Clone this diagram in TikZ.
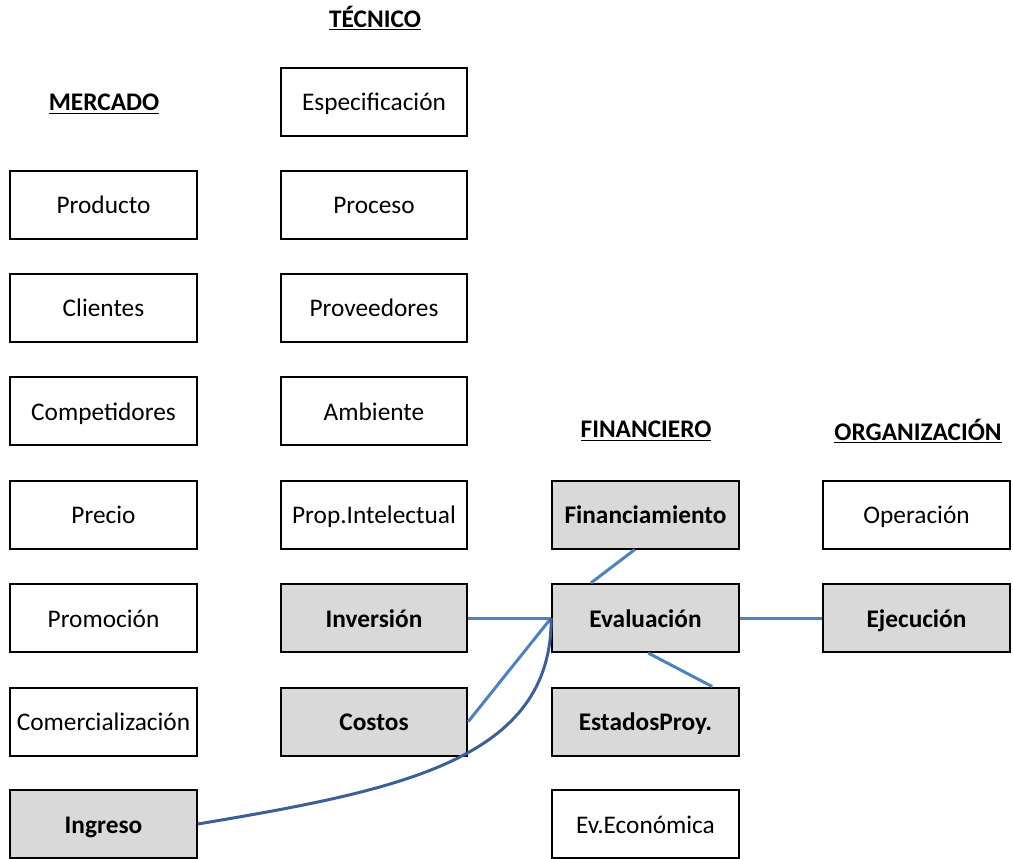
\documentclass[tikz,border=0pt]{standalone}
\usepackage{fontspec}
\setmainfont{Carlito}
\begin{document}
\begin{tikzpicture}[x=0.75pt, y=-0.75pt,
    caja/.style={draw=black, line width=1.5pt, minimum width=140pt, minimum height=51pt, text height=14pt, text depth=0pt, font=\fontsize{19}{23}\selectfont},
    cajagris/.style={caja, fill=gray!30, font=\fontsize{19}{23}\selectfont\bfseries},
    titulo/.style={font=\fontsize{19}{23}\selectfont\bfseries},
    enlace/.style={draw={rgb,255:red,79;green,129;blue,189}, line width=2.25pt}]
                \useasboundingbox (0,0) rectangle (1013,858);
                
                % titulos de las columnas
                \node[titulo] (tmer) at (104,104) {\underline{MERCADO}};
                \node[titulo] (ttec) at (375,18) {\underline{TÉCNICO}};
                \node[titulo] (tfin) at (646,431) {\underline{FINANCIERO}};
                \node[titulo] (torg) at (918,431) {\underline{ORGANIZACIÓN}};
                
                % mercado
                \node[caja] (prod) at (103.5,204.5) {Producto};
                \node[caja] (cli) at (103.5,307.5) {Clientes};
                \node[caja] (comp) at (103.5,411) {Competidores};
                \node[caja] (prec) at (103.5,514.5) {Precio};
                \node[caja] (prom) at (103.5,618) {Promoción};
                \node[caja] (comer) at (103.5,721.5) {Comercialización};
                \node[cajagris] (ing) at (103.5,824) {Ingreso};
                
                % tecnico
                \node[caja] (esp) at (374,101.5) {Especificación};
                \node[caja] (proc) at (374,204.5) {Proceso};
                \node[caja] (prov) at (374,307.5) {Proveedores};
                \node[caja] (amb) at (374,411) {Ambiente};
                \node[caja] (pint) at (374,514.5) {Prop.Intelectual};
                \node[cajagris] (inv) at (374,618) {Inversión};
                \node[cajagris] (cost) at (374,721.5) {Costos};
                
                % financiero
                \node[cajagris] (finan) at (645.5,514.5) {Financiamiento};
                \node[cajagris] (eval) at (645.5,618) {Evaluación};
                \node[cajagris] (est) at (645.5,721.5) {EstadosProy.};
                \node[caja] (evec) at (645.5,824) {Ev.Económica};
                
                % organizacion
                \node[caja] (oper) at (916.5,514.5) {Operación};
                \node[cajagris] (ejec) at (916.5,618) {Ejecución};
                
                % enlaces hacia la evaluacion
                \draw[enlace] (inv.east) -- (eval.west);
                \draw[enlace] (cost.east) -- (eval.west);
                \draw[enlace] ([xshift=-8pt]finan.south) -- ([xshift=-41pt]eval.north);
                \draw[enlace] ([xshift=2pt]eval.south) -- ([xshift=50pt]est.north);
                \draw[enlace] (eval.east) -- (ejec.west);
                \draw[draw={rgb,255:red,60;green,96;blue,150}, line width=2.25pt] (ing.east) .. controls (400,790) and (552,760) .. (eval.west);
                \end{tikzpicture}
\end{document}
